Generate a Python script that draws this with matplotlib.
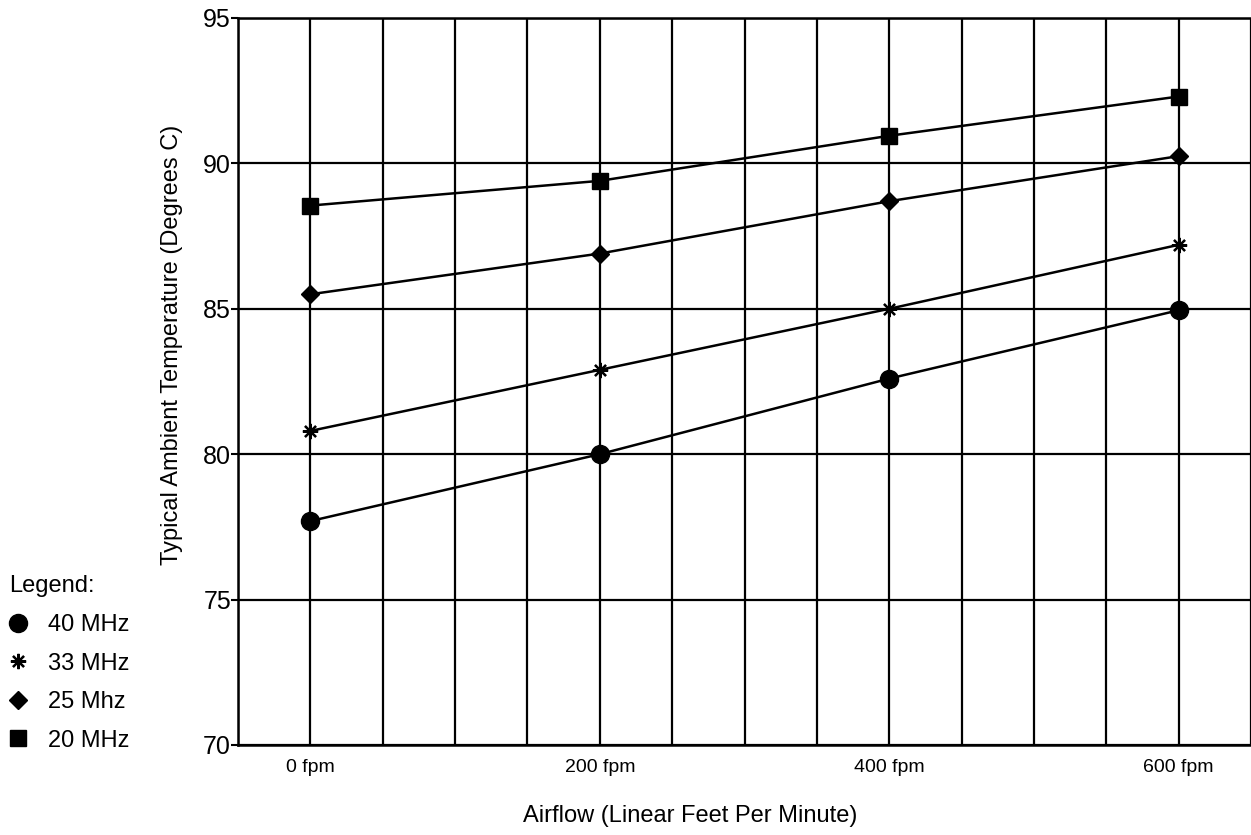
import matplotlib
matplotlib.use("agg")
import matplotlib.pyplot as plt
import numpy as np

plt.rcParams['font.family'] = ['Liberation Sans', 'DejaVu Sans']

airflow = [0, 200, 400, 600]
tick_labels = ['0 fpm', '200 fpm', '400 fpm', '600 fpm']
mhz40 = [77.7, 80.0, 82.6, 84.95]
mhz33 = [80.8, 82.9, 85.0, 87.2]
mhz25 = [85.5, 86.9, 88.7, 90.25]
mhz20 = [88.55, 89.4, 90.95, 92.3]
series_labels = ['40 MHz', '33 MHz', '25 Mhz', '20 MHz']

fig = plt.figure(figsize=(12.51, 8.35), dpi=100)
ax = fig.add_axes([238/1251, 1-745/835, 1-238/1251, (745-18)/835])

styles = [dict(marker='o', ms=13),
          dict(marker=(8, 2, 0), ms=11, mew=1.6),
          dict(marker='D', ms=9),
          dict(marker='s', ms=12)]
for vals, lab, st in zip([mhz40, mhz33, mhz25, mhz20], series_labels, styles):
    ax.plot(airflow, vals, color='black', lw=1.8, mfc='black', mec='black',
            label=lab, zorder=3, **st)

ax.set_xlim(-50, 650)
ax.set_ylim(70, 95)
ax.set_xticks(airflow)
ax.set_xticklabels(tick_labels, fontsize=14)
ax.set_xticks(np.arange(-50, 651, 50), minor=True)
ax.set_yticks(np.arange(70, 96, 5))
ax.tick_params(axis='y', labelsize=18, length=5, width=1.5, pad=0)
ax.tick_params(axis='x', which='both', length=0, pad=10)
ax.grid(True, which='both', color='black', lw=1.6)
for s in ax.spines.values():
    s.set_linewidth(1.8)
ax.spines['right'].set_visible(False)

ax.set_ylabel('Typical Ambient Temperature (Degrees C)', fontsize=17)
ax.yaxis.set_label_coords(-0.054, 0.55)
ax.set_xlabel('Airflow (Linear Feet Per Minute)', fontsize=17)
ax.xaxis.set_label_coords(0.446, -0.082)

h, l = ax.get_legend_handles_labels()
leg = fig.legend(h, l, title='Legend:', loc='upper left',
                 bbox_to_anchor=(0.0, 1-566/835), frameon=False,
                 fontsize=17, title_fontsize=17, alignment='left',
                 handlelength=0.75, handletextpad=0.9, labelspacing=0.7,
                 borderaxespad=0.0, borderpad=0.4)
for line in leg.get_lines():
    line.set_linestyle('none')

fig.savefig('out.png', dpi=100)
